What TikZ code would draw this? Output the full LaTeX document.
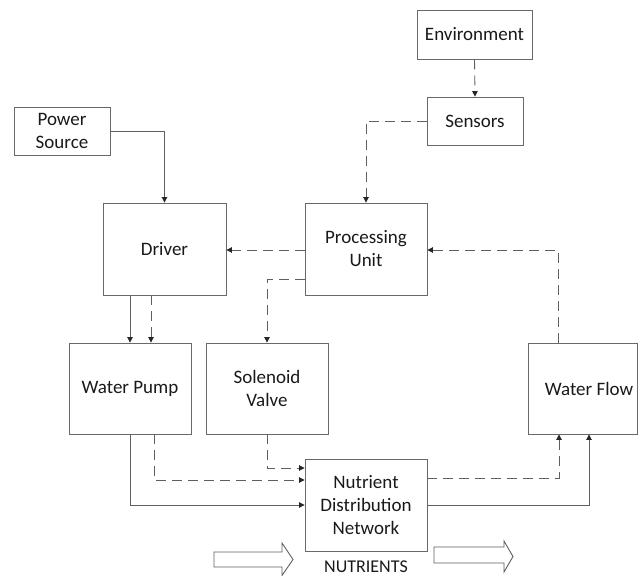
\documentclass[tikz,border=0pt]{standalone}
\usepackage{fontspec}
\setmainfont{Carlito}
\usetikzlibrary{arrows.meta}
\definecolor{linec}{RGB}{95,95,95}
\definecolor{boxc}{RGB}{105,105,105}
\definecolor{txtc}{RGB}{25,25,25}
\tikzset{
  box/.style={draw=boxc, line width=0.9pt, inner sep=0pt, align=center, text=txtc,
    font=\fontsize{19}{23}\selectfont},
  conn/.style={draw=linec, line width=0.9pt, -{Triangle[length=5.5pt,width=5.5pt,fill=black!85,color=black!85]}},
  dsh/.style={dash pattern=on 10pt off 6pt},
  blockarrow/.style={draw=linec, line width=0.9pt, fill=white}
}
\begin{document}
\begin{tikzpicture}[x=1pt,y=-1pt]
\useasboundingbox (0,0) rectangle (638,576);
% nodes
\node[box, minimum width=115pt, minimum height=49pt] (env) at (474.5,34.5) {Environment};
\node[box, minimum width=96pt, minimum height=48pt] (sens) at (475,121) {Sensors};
\node[box, minimum width=96pt, minimum height=48pt] (pow) at (62,131) {Power\\Source};
\node[box, minimum width=123pt, minimum height=92pt] (drv) at (164.5,249) {Driver};
\node[box, minimum width=122pt, minimum height=92pt] (pu) at (366,249) {Processing\\Unit};
\node[box, minimum width=122pt, minimum height=91pt] (wp) at (130,388.5) {Water Pump};
\node[box, minimum width=122pt, minimum height=91pt] (sol) at (267,388.5) {Solenoid\\Valve};
\node[box, minimum width=109pt, minimum height=91pt] (wf) at (582.5,388.5) {\hspace*{13pt}Water Flow};
\node[box, minimum width=122pt, minimum height=92pt] (ndn) at (366,505) {Nutrient\\Distribution\\Network};
\node[text=txtc, font=\fontsize{18}{22}\selectfont, anchor=base, inner sep=0pt, text depth=0pt] (nut) at (366,572) {NUTRIENTS};
% connectors
\draw[conn,dsh] (env.south) -- (sens.north);
\draw[conn,dsh] (sens.west) -| (pu.north);
\draw[conn] (pow.east) -| (drv.north);
\draw[conn,dsh] ([yshift=-1pt]pu.west) -- ([yshift=-1pt]drv.east);
\draw[conn,dsh] ([yshift=-30pt]pu.west) -| (sol.north);
\draw[conn] (wp.north |- drv.south) -- (wp.north);
\draw[conn,dsh] ([xshift=21pt]wp.north |- drv.south) -- ([xshift=21pt]wp.north);
\draw[conn] (wp.south) |- (ndn.west);
\draw[conn,dsh] ([xshift=24pt]wp.south) |- ([yshift=25pt]ndn.west);
\draw[conn,dsh] (sol.south) |- ([yshift=37pt]ndn.west);
\draw[conn,dsh] ([xshift=-24.5pt]wf.north) |- ([yshift=-1pt]pu.east);
\draw[conn,dsh] ([yshift=27pt]ndn.east) -| ([xshift=-23.5pt]wf.south);
\draw[conn] (ndn.east) -| ([xshift=6.5pt]wf.south);
% block arrows
\draw[blockarrow] (214,552) -- (282,552) -- (282,543) -- (293,559.5) -- (282,575.5) -- (282,567) -- (214,567) -- cycle;
\draw[blockarrow] (434,547) -- (504,547) -- (504,541) -- (513,556.5) -- (504,572) -- (504,563) -- (434,563) -- cycle;
\end{tikzpicture}
\end{document}
